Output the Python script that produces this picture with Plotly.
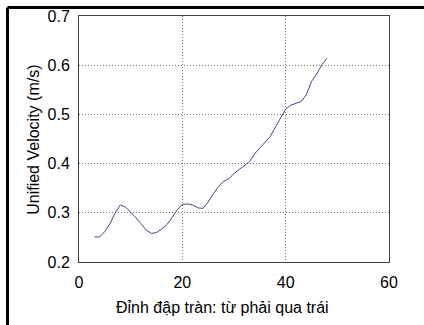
import plotly.graph_objects as go

# crest position along the spillway (right to left) and unified velocity
positions = list(range(3, 49))
velocity = [
    0.251, 0.251, 0.262, 0.278, 0.300, 0.316, 0.312, 0.302, 0.290, 0.278,
    0.265, 0.258, 0.260, 0.267, 0.276, 0.290, 0.306, 0.317, 0.318, 0.316,
    0.310, 0.309, 0.322, 0.339, 0.353, 0.364, 0.369, 0.380, 0.388, 0.395,
    0.404, 0.420, 0.431, 0.442, 0.455, 0.474, 0.492, 0.511, 0.519, 0.522,
    0.526, 0.540, 0.567, 0.582, 0.601, 0.614,
]
x_ticks = [0, 20, 40, 60]
y_ticks = [0.2, 0.3, 0.4, 0.5, 0.6, 0.7]
x_label = "Đỉnh đập tràn: từ phải qua trái"
y_label = "Unified Velocity (m/s)"

FONT = "Liberation Sans, Arial, sans-serif"

fig = go.Figure()
fig.add_trace(go.Scatter(
    x=positions, y=velocity, mode="lines",
    line=dict(color="#46468a", width=1),
    hoverinfo="skip", showlegend=False,
))

axis_common = dict(
    showline=True, mirror=True, linecolor="#404040", linewidth=1,
    showgrid=True, gridcolor="#7a7a7a", gridwidth=1, griddash="1px,2px",
    zeroline=False, ticks="", automargin=False,
    tickfont=dict(family=FONT, size=16, color="black"),
)

fig.update_xaxes(
    range=[0, 60], tickvals=x_ticks, ticktext=[str(v) for v in x_ticks],
    ticklabelstandoff=6, **axis_common,
)
fig.update_yaxes(
    range=[0.2, 0.7], tickvals=y_ticks, ticktext=[f"{v:.1f}" for v in y_ticks],
    ticklabelstandoff=5, **axis_common,
)

# axis titles placed as free text
fig.add_annotation(text=x_label, xref="paper", yref="paper",
                   x=0.463, y=-0.183, xanchor="center", yanchor="middle",
                   showarrow=False, font=dict(family=FONT, size=16, color="black"))
fig.add_annotation(text=y_label, xref="paper", yref="paper", textangle=-90,
                   x=-0.145, y=0.497, xanchor="center", yanchor="middle",
                   showarrow=False, font=dict(family=FONT, size=16, color="black"))

# heavy frame along the top and left edges of the figure
fig.add_shape(type="line", xref="paper", yref="paper",
              x0=-0.2306, x1=1.2, y0=1.0346, y1=1.0346,
              line=dict(color="black", width=3))
fig.add_shape(type="line", xref="paper", yref="paper",
              x0=-0.2306, x1=-0.2306, y0=1.0346, y1=-0.35,
              line=dict(color="black", width=3))

fig.update_layout(
    width=424, height=325,
    margin=dict(l=79, r=35, t=16, b=63),
    paper_bgcolor="white", plot_bgcolor="white",
    font=dict(family=FONT, color="black"),
)

fig.write_html("out.html")
